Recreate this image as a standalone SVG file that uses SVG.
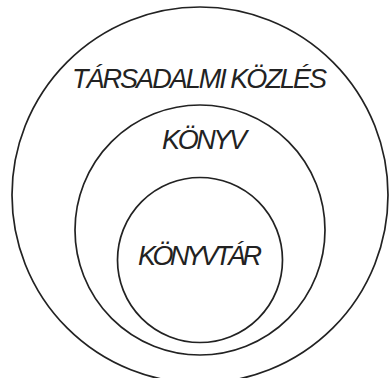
<svg xmlns="http://www.w3.org/2000/svg" width="389" height="378" viewBox="0 0 389 378">
<style>
.c{fill:none;stroke:#222;stroke-width:1.7}
.t{font-family:"Liberation Sans","DejaVu Sans",Arial,sans-serif;font-style:italic;font-size:27px;fill:#222}
</style>
<rect width="389" height="378" fill="#fff"/>
<g id="tarsadalmi-kozles">
<circle class="c" cx="200" cy="195" r="188"/>
<text class="t" x="72" y="88" textLength="255" lengthAdjust="spacing">TÁRSADALMI KÖZLÉS</text>
</g>
<g id="konyv">
<circle class="c" cx="200" cy="230" r="125"/>
<text class="t" x="162" y="149" textLength="85" lengthAdjust="spacing">KÖNYV</text>
</g>
<g id="konyvtar">
<circle class="c" cx="200" cy="260" r="82.5"/>
<text class="t" x="138" y="265" textLength="124" lengthAdjust="spacing">KÖNYVTÁR</text>
</g>
<g id="connectors"/>
</svg>
